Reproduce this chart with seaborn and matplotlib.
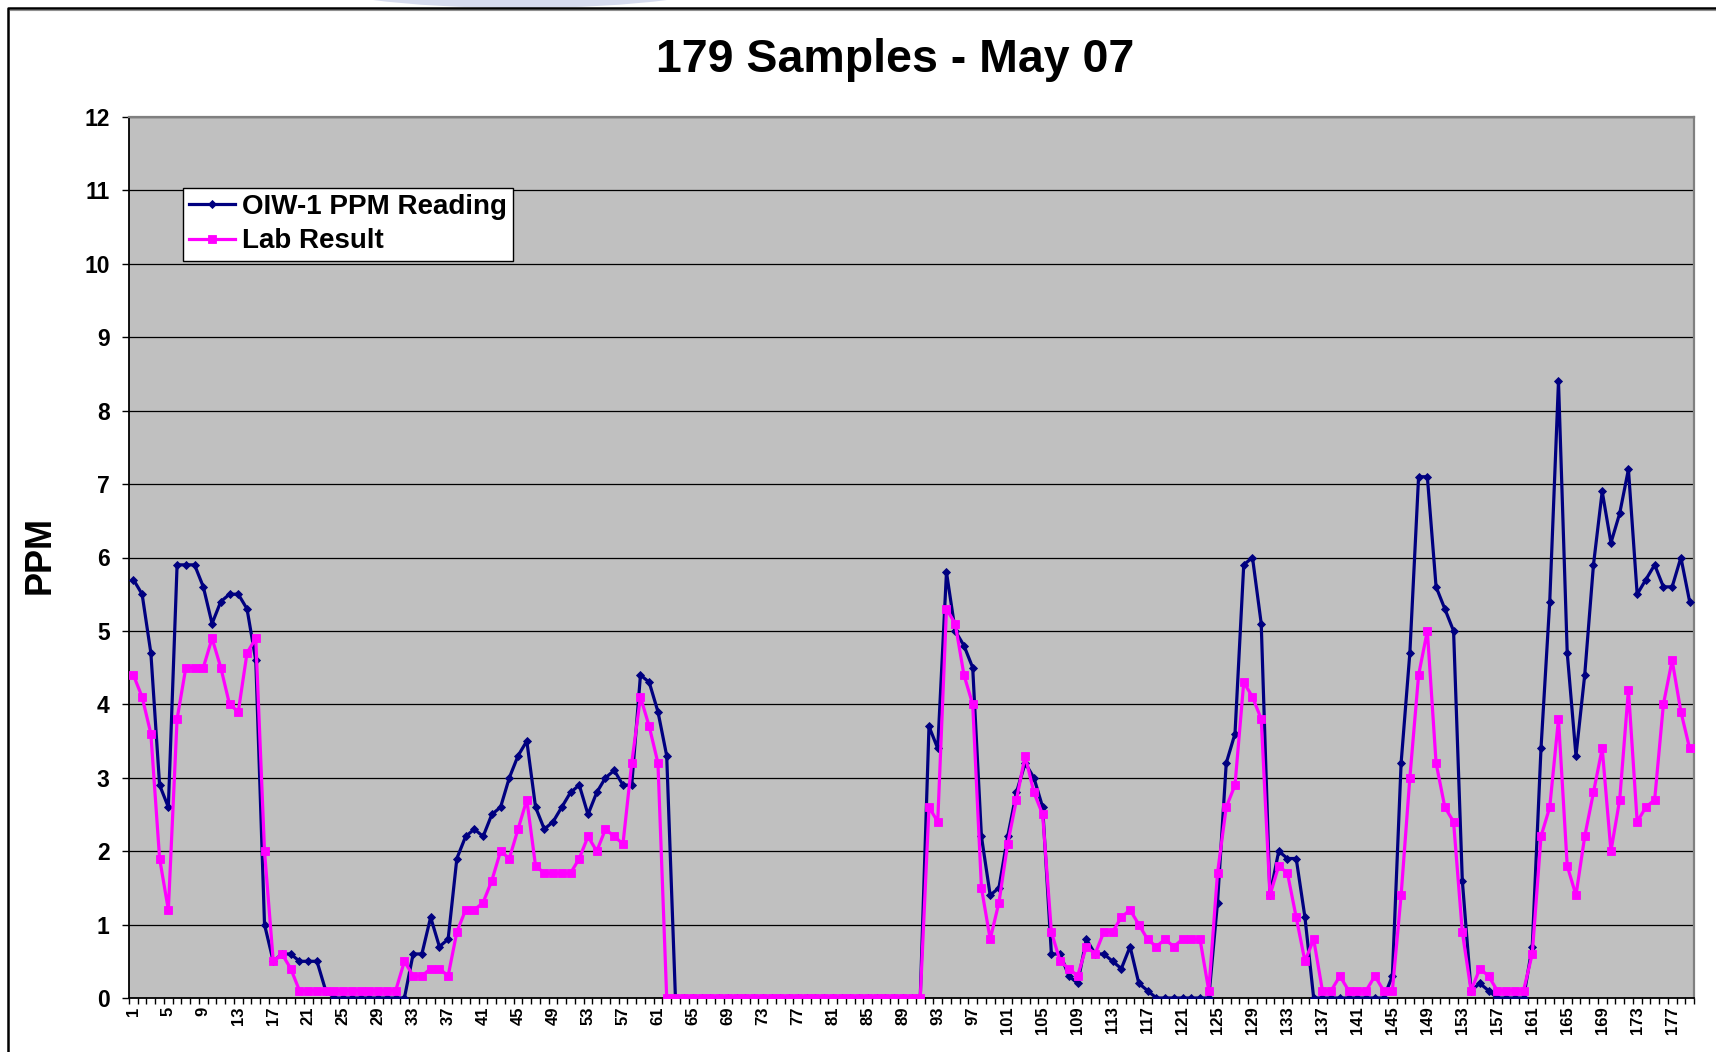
import matplotlib
matplotlib.use("Agg")
import matplotlib.pyplot as plt
import seaborn as sns
import pandas as pd
from matplotlib.patches import Ellipse
from matplotlib.lines import Line2D

# ---------------- data ----------------
sample_numbers = list(range(1, 180))

oiw_reading = [
    5.7, 5.5, 4.7, 2.9, 2.6, 5.9, 5.9, 5.9, 5.6, 5.1, 5.4, 5.5, 5.5, 5.3, 4.6,   # 1-15
    1.0, 0.5, 0.6, 0.6, 0.5, 0.5, 0.5, 0.1,                                       # 16-23
    0, 0, 0, 0, 0, 0, 0, 0, 0,                                                    # 24-32
    0.6, 0.6, 1.1, 0.7, 0.8, 1.9, 2.2, 2.3, 2.2, 2.5,                             # 33-42
    2.6, 3.0, 3.3, 3.5, 2.6, 2.3, 2.4, 2.6, 2.8, 2.9,                             # 43-52
    2.5, 2.8, 3.0, 3.1, 2.9, 2.9, 4.4, 4.3, 3.9, 3.3,                             # 53-62
    0, 0, 0, 0, 0, 0, 0, 0, 0, 0,                                                 # 63-72
    0, 0, 0, 0, 0, 0, 0, 0, 0, 0,                                                 # 73-82
    0, 0, 0, 0, 0, 0, 0, 0, 0,                                                    # 83-91
    3.7, 3.4, 5.8, 5.0, 4.8, 4.5, 2.2, 1.4, 1.5, 2.2,                             # 92-101
    2.8, 3.2, 3.0, 2.6, 0.6, 0.6, 0.3, 0.2, 0.8, 0.6,                             # 102-111
    0.6, 0.5, 0.4, 0.7, 0.2, 0.1,                                                 # 112-117
    0, 0, 0, 0, 0, 0, 0,                                                          # 118-124
    1.3, 3.2, 3.6, 5.9, 6.0, 5.1, 1.4, 2.0, 1.9, 1.9, 1.1,                        # 125-135
    0, 0, 0, 0, 0, 0, 0, 0, 0,                                                    # 136-144
    0.3, 3.2, 4.7, 7.1, 7.1, 5.6, 5.3, 5.0, 1.6, 0.1,                             # 145-154
    0.2, 0.1, 0, 0, 0, 0, 0.7, 3.4, 5.4, 8.4,                                     # 155-164
    4.7, 3.3, 4.4, 5.9, 6.9, 6.2, 6.6, 7.2, 5.5, 5.7,                             # 165-174
    5.9, 5.6, 5.6, 6.0, 5.4,                                                      # 175-179
]

lab_result = [
    4.4, 4.1, 3.6, 1.9, 1.2, 3.8, 4.5, 4.5, 4.5, 4.9, 4.5, 4.0, 3.9, 4.7, 4.9,   # 1-15
    2.0, 0.5, 0.6, 0.4,                                                           # 16-19
    0.1, 0.1, 0.1, 0.1, 0.1, 0.1, 0.1, 0.1, 0.1, 0.1, 0.1, 0.1,                   # 20-31
    0.5, 0.3, 0.3, 0.4, 0.4, 0.3, 0.9, 1.2, 1.2, 1.3,                             # 32-41
    1.6, 2.0, 1.9, 2.3, 2.7, 1.8, 1.7, 1.7, 1.7, 1.7,                             # 42-51
    1.9, 2.2, 2.0, 2.3, 2.2, 2.1, 3.2, 4.1, 3.7, 3.2,                             # 52-61
    0, 0, 0, 0, 0, 0, 0, 0, 0, 0,                                                 # 62-71
    0, 0, 0, 0, 0, 0, 0, 0, 0, 0,                                                 # 72-81
    0, 0, 0, 0, 0, 0, 0, 0, 0, 0,                                                 # 82-91
    2.6, 2.4, 5.3, 5.1, 4.4, 4.0, 1.5, 0.8, 1.3, 2.1,                             # 92-101
    2.7, 3.3, 2.8, 2.5, 0.9, 0.5, 0.4, 0.3, 0.7, 0.6,                             # 102-111
    0.9, 0.9, 1.1, 1.2, 1.0, 0.8, 0.7, 0.8, 0.7, 0.8,                             # 112-121
    0.8, 0.8, 0.1, 1.7, 2.6, 2.9, 4.3, 4.1, 3.8, 1.4,                             # 122-131
    1.8, 1.7, 1.1, 0.5, 0.8, 0.1, 0.1, 0.3, 0.1, 0.1,                             # 132-141
    0.1, 0.3, 0.1, 0.1, 1.4, 3.0, 4.4, 5.0, 3.2, 2.6,                             # 142-151
    2.4, 0.9, 0.1, 0.4, 0.3, 0.1, 0.1, 0.1, 0.1, 0.6,                             # 152-161
    2.2, 2.6, 3.8, 1.8, 1.4, 2.2, 2.8, 3.4, 2.0, 2.7,                             # 162-171
    4.2, 2.4, 2.6, 2.7, 4.0, 4.6, 3.9, 3.4,                                       # 172-179
]

series_names = ["OIW-1 PPM Reading", "Lab Result"]
x_tick_values = list(range(1, 180, 4))
x_tick_labels = [str(v) for v in x_tick_values]
y_tick_values = list(range(0, 13))

assert len(oiw_reading) == 179 and len(lab_result) == 179

# ---------------- style ----------------
NAVY = "#000080"
MAGENTA = "#FF00FF"
W, H = 1716, 1052

plt.rcParams["font.family"] = ["Liberation Sans", "DejaVu Sans"]
plt.rcParams["font.weight"] = "bold"

fig = plt.figure(figsize=(W / 100, H / 100), dpi=100)
fig.patch.set_facecolor("white")

ax = fig.add_axes([129 / W, 1 - 998 / H, (1694 - 129) / W, (998 - 117) / H])
ax.set_facecolor("#C0C0C0")

df = pd.DataFrame({"Sample": sample_numbers,
                   series_names[0]: oiw_reading,
                   series_names[1]: lab_result})

NAVY_MS, MAG_MS, LW = 4.4, 5.9, 2.3

sns.lineplot(data=df, x="Sample", y=series_names[0], ax=ax, color=NAVY,
             linewidth=LW, marker="D", markersize=NAVY_MS, markeredgecolor=NAVY,
             markeredgewidth=0.6, sort=False, errorbar=None, legend=False, zorder=3)
sns.lineplot(data=df, x="Sample", y=series_names[1], ax=ax, color=MAGENTA,
             linewidth=LW, marker="s", markersize=MAG_MS, markeredgecolor=MAGENTA,
             markeredgewidth=0.6, sort=False, errorbar=None, legend=False, zorder=4)

# axes limits & ticks
ax.set_xlim(0.5, 179.5)
ax.set_ylim(0, 12)
ax.set_yticks(y_tick_values)
ax.set_yticklabels([str(v) for v in y_tick_values], fontsize=16.5, fontweight="bold")
ax.set_xticks(x_tick_values)
ax.set_xticklabels(x_tick_labels, rotation=90, fontsize=12, fontweight="bold")
ax.set_xticks([i + 0.5 for i in range(0, 180)], minor=True)
ax.tick_params(axis="x", which="major", length=0, pad=6)
ax.tick_params(axis="x", which="minor", length=4, width=1, color="black", direction="out")
ax.tick_params(axis="y", which="major", length=5, width=1, color="black", pad=9,
               direction="out")
ax.set_xlabel("")
ax.set_ylabel("")

ax.yaxis.grid(True, color="black", linewidth=0.9)
ax.xaxis.grid(False)
ax.set_axisbelow(True)

for side in ("left", "bottom"):
    ax.spines[side].set_color("black")
    ax.spines[side].set_linewidth(1.3)
for side in ("top", "right"):
    ax.spines[side].set_color("#808080")
    ax.spines[side].set_linewidth(1.6)

# legend
handles = [
    Line2D([0], [0], color=NAVY, lw=LW, marker="D", ms=NAVY_MS, mec=NAVY, mew=0.6),
    Line2D([0], [0], color=MAGENTA, lw=LW, marker="s", ms=MAG_MS, mec=MAGENTA, mew=0.6),
]
leg = ax.legend(handles, series_names, loc="upper left",
                bbox_to_anchor=(183 / W, 1 - 188 / H), bbox_transform=fig.transFigure,
                borderaxespad=0, fontsize=20, frameon=True, fancybox=False,
                shadow=False, framealpha=1, edgecolor="black", handlelength=1.65,
                handletextpad=0.25, borderpad=0.22, labelspacing=0.3, numpoints=1)
leg.get_frame().set_linewidth(1.0)
for t in leg.get_texts():
    t.set_fontweight("bold")

# titles
fig.text(895 / W, 1 - 72 / H, "179 Samples - May 07", ha="center", va="baseline",
         fontsize=33.5, fontweight="bold")
fig.text(40 / W, 1 - 555 / H, "PPM", rotation=90, ha="center", va="center",
         fontsize=26, fontweight="bold")

# chart-area border and slide decoration above it
fig.add_artist(Ellipse((520 / W, 1 + 20 / H), width=420 / W, height=56 / H,
                       transform=fig.transFigure, facecolor="#d6dbee",
                       edgecolor="none", zorder=-2))
fig.add_artist(Line2D([8 / W, 8 / W, 1.0], [0, 1 - 8 / H, 1 - 8 / H],
                      transform=fig.transFigure, color="black", lw=1.8, zorder=5))
fig.add_artist(Line2D([10 / W, 1.0], [1 - 10 / H, 1 - 10 / H],
                      transform=fig.transFigure, color="#909090", lw=0.8, zorder=5))

fig.savefig("out.png", dpi=100)
